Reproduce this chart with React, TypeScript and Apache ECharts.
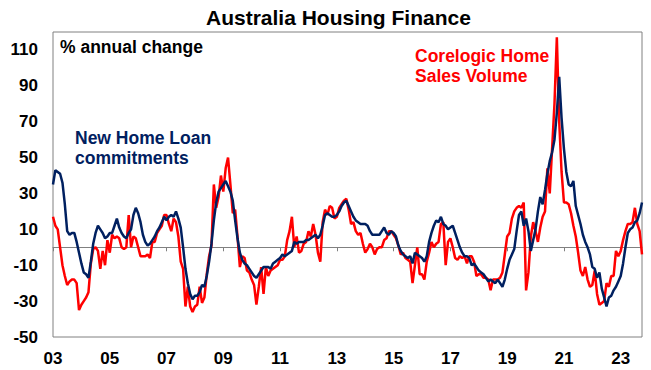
import React, { useEffect, useRef } from "react";
import * as echarts from "echarts";

// Monthly categories: Jan 2003 .. Oct 2023
const months: string[] = [];
for (let i = 0; i < 250; i++) {
  const y = 2003 + Math.floor(i / 12);
  const m = (i % 12) + 1;
  months.push(`${y}-${String(m).padStart(2, "0")}`);
}

// New Home Loan commitments, % annual change
const homeLoans: number[] = [
  35, 43, 42, 41, 36, 24, 9, 7, 8, 8, 3, -3,
  -9, -14, -15, -17, -8, 2, 8, 12, 10, 8, 5, 6,
  8, 8, 12, 16, 11, 8, 6, 5, 8, 10, 18, 22,
  19, 14, 7, 3, 1, 2, 4, 6, 9, 11, 14, 17,
  15, 17, 18, 17, 20, 16, 11, 0, -12, -20, -26, -29,
  -27, -27, -25, -21, -22, -16, -8, 2, 15, 25, 31, 33,
  35, 37, 34, 31, 26, 15, 5, -3, -7, -9, -10, -12,
  -14, -16, -17, -15, -13, -11, -11, -11, -12, -9, -8, -7,
  -6, -4, -5, -4, -3, -2, 3, 2, 3, 3, 3, 4,
  4, 5, 6, 7, 5, 7, 12, 18, 19, 18, 17, 17,
  18, 20, 23, 25, 26, 23, 20, 17, 15, 14, 13, 13,
  13, 12, 9, 7, 7, 7, 7, 9, 11, 8, 7, 9,
  8, 6, 1, -2, -4, -5, -6, -5, -9, -3, -4, -5,
  -6, -8, -5, 3, 8, 12, 15, 14, 17, 13, 12, 10,
  11, 12, 8, 4, 0, -3, -5, -5, -6, -10, -9, -11,
  -13, -14, -15, -17, -19, -18, -19, -20, -18, -20, -22, -18,
  -12, -7, -4, -1, 9, 18, 20, 12, 16, 9, -2, 4,
  10, 20, 28, 24, 32, 41, 48, 53, 60, 75, 95, 72,
  55, 42, 35, 34, 37, 23, 18, 13, 7, 3, 0, -4,
  -11, -12, -17, -14, -23, -28, -33, -28, -27, -24, -22, -19,
  -16, -9, 0, 8, 10, 11, 14, 15, 19, 25,
];

// Corelogic Home Sales Volume, % annual change
const salesVolume: number[] = [
  17, 12, 10, 0, -10, -16, -21, -19, -18, -18, -20, -35,
  -32, -30, -28, -25, -9, -1, 0, -2, -12, -2, -10, 4,
  -3, 7, 5, 6, 5, 0, -1, 0, 18, 0, 6, 5,
  0, -5, -5, -5, -4, -6, 3, 3, 8, 10, 12, 18,
  18, 13, 9, 16, 14, 6, -8, -12, -33, -22, -33, -36,
  -33, -32, -22, -31, -28, -15, -5, 1, 35, 22, 28, 40,
  31, 44, 50, 35, 19, 21, 6, -11, -5, -6, -13, -14,
  -18, -21, -32, -22, -11, -26, -11, -16, -13, -12, -11, -10,
  -7, -7, -5, 4, 9, 17, 0, 6, -3, -2, 2, 3,
  9, 6, 13, 7, -3, -8, 14, 21, 18, 23, 22, 16,
  17, 22, 24, 26, 27, 21, 13, 14, 9, 7, 8, 2,
  -3, -1, 2, 0, -4, -1, 0, 0, 4, 5, 9, 9,
  7, 5, 1, -4, -3, -6, -7, -8, -20, -10, 0, -15,
  -15, -18, -8, -3, 3, 0, 2, 3, 13, 14, -10, 3,
  5, 0, -6, -7, -5, -6, -5, -9, -5, -5, -8, -16,
  -15, -15, -17, -17, -18, -24, -18, -18, -18, -17, -14, -4,
  6, 8, 16, 20, 22, 23, 22, 25, -24, -14, 6, 14,
  9, 3, 11, 17, 20, 44, 30, 55, 80, 117, 70, 42,
  25, 25, 24, 19, 12, 6, -3, -13, -16, -11, -18, -22,
  -21, -13, -26, -32, -31, -30, -20, -22, -16, -16, -2, -5,
  -2, 4, 9, 13, 13, 14, 22, 13, 9, -4,
];

const Y_MIN = -50;
const Y_MAX = 120;
const Y_STEP = 20;

const TITLE = "Australia Housing Finance";
const UNIT_LABEL = "% annual change";
const LOANS_LABEL = "New Home Loan\ncommitments";
const SALES_LABEL = "Corelogic Home\nSales Volume";

const FONT = "'Liberation Sans', Arial, sans-serif";
const NAVY = "#002060";
const RED = "#ff0000";

export default function App() {
  const ref = useRef<HTMLDivElement>(null);

  useEffect(() => {
    if (!ref.current) return;
    const chart = echarts.init(ref.current, null, { renderer: "svg" });
    const yearTick = (i: number) => i % 24 === 0;
    chart.setOption({
      animation: false,
      backgroundColor: "#ffffff",
      textStyle: { fontFamily: FONT },
      title: {
        text: TITLE,
        left: 201,
        top: 2,
        textStyle: { fontFamily: FONT, fontSize: 21, fontWeight: "bold", color: "#000" },
      },
      grid: {
        left: 53,
        right: 9,
        top: 32,
        bottom: 33,
        show: true,
        borderColor: "#808080",
        borderWidth: 1,
        containLabel: false,
      },
      xAxis: [
        {
          type: "category",
          data: months,
          boundaryGap: false,
          axisLine: { show: false, onZero: false },
          axisTick: { show: false },
          splitLine: { show: false },
          axisLabel: {
            interval: (i: number) => yearTick(i),
            formatter: (v: string) => v.slice(2, 4),
            fontFamily: FONT,
            fontSize: 17,
            fontWeight: "bold",
            color: "#000",
            margin: 13,
          },
        },
        {
          type: "category",
          data: months,
          boundaryGap: false,
          position: "bottom",
          axisLine: { show: true, onZero: true, lineStyle: { color: "#808080", width: 1 } },
          axisTick: {
            show: true,
            interval: (i: number) => yearTick(i),
            length: 4,
            lineStyle: { color: "#808080", width: 1 },
          },
          axisLabel: { show: false },
          splitLine: { show: false },
        },
      ],
      yAxis: {
        type: "value",
        min: Y_MIN,
        max: Y_MAX,
        interval: Y_STEP,
        axisLine: { show: false },
        axisTick: { show: false },
        splitLine: { show: false },
        axisLabel: {
          formatter: (v: number) => (v >= Y_MAX ? "" : String(v)),
          fontFamily: FONT,
          fontSize: 17,
          fontWeight: "bold",
          color: "#000",
          margin: 15,
        },
      },
      series: [
        {
          name: "Corelogic Home Sales Volume",
          type: "line",
          xAxisIndex: 0,
          data: salesVolume,
          showSymbol: false,
          symbol: "none",
          lineStyle: { color: RED, width: 2.5 },
          itemStyle: { color: RED },
        },
        {
          name: "New Home Loan commitments",
          type: "line",
          xAxisIndex: 0,
          data: homeLoans,
          showSymbol: false,
          symbol: "none",
          lineStyle: { color: NAVY, width: 2.5 },
          itemStyle: { color: NAVY },
        },
      ],
      graphic: [
        {
          type: "text",
          x: 60,
          y: 47,
          style: {
            text: UNIT_LABEL,
            fill: "#000",
            font: `bold 17.5px ${FONT}`,
            verticalAlign: "middle",
          },
        },
        {
          type: "text",
          x: 75,
          y: 148,
          style: {
            text: LOANS_LABEL,
            fill: NAVY,
            font: `bold 17.5px ${FONT}`,
            lineHeight: 20,
            verticalAlign: "middle",
          },
        },
        {
          type: "text",
          x: 415,
          y: 66,
          style: {
            text: SALES_LABEL,
            fill: RED,
            font: `bold 17.5px ${FONT}`,
            lineHeight: 20,
            verticalAlign: "middle",
          },
        },
      ],
    });
    return () => chart.dispose();
  }, []);

  return (
    <div
      ref={ref}
      style={{ position: "fixed", left: 0, top: 0, width: 651, height: 370, background: "#fff" }}
    />
  );
}
